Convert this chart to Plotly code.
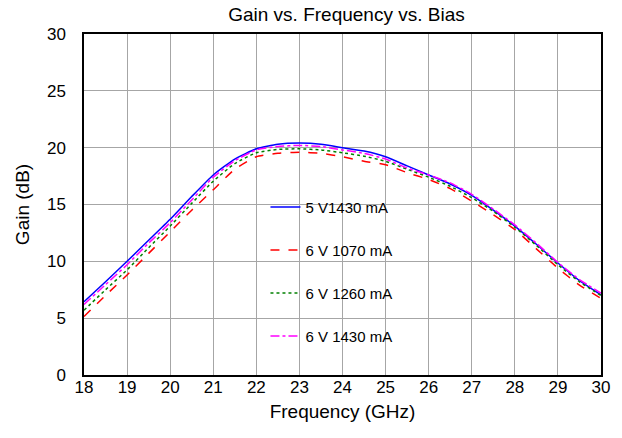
import plotly.graph_objects as go

freq = [18, 18.5, 19, 19.5, 20, 20.5, 21, 21.5, 22, 22.5, 23, 23.5, 24, 24.5,
        25, 25.5, 26, 26.5, 27, 27.5, 28, 28.5, 29, 29.5, 30]

gain_5v_1430 = [6.45, 8.2, 10.0, 11.85, 13.7, 15.7, 17.6, 19.0, 19.9, 20.3, 20.4, 20.3, 20.0, 19.7,
                19.2, 18.4, 17.6, 16.8, 15.8, 14.5, 13.1, 11.5, 9.85, 8.3, 7.05]
gain_6v_1070 = [5.15, 7.0, 8.8, 10.7, 12.6, 14.5, 16.3, 18.1, 19.2, 19.5, 19.6, 19.5, 19.2, 18.8,
                18.5, 17.8, 17.2, 16.4, 15.3, 14.1, 12.8, 11.1, 9.4, 7.9, 6.75]
gain_6v_1260 = [5.7, 7.5, 9.25, 11.2, 13.1, 15.1, 17.05, 18.6, 19.55, 19.85, 19.9, 19.8, 19.55, 19.25,
                18.8, 18.1, 17.4, 16.6, 15.6, 14.4, 13.0, 11.4, 9.7, 8.2, 7.0]
gain_6v_1430 = [6.2, 7.95, 9.7, 11.6, 13.4, 15.4, 17.4, 18.85, 19.8, 20.1, 20.2, 20.1, 19.8, 19.5,
                19.0, 18.2, 17.6, 16.9, 15.9, 14.6, 13.2, 11.6, 9.9, 8.4, 7.2]

series = [
    ("5 V1430 mA", gain_5v_1430, "#0000ff", "solid"),
    ("6 V 1070 mA", gain_6v_1070, "#ff0000", "dash"),
    ("6 V 1260 mA", gain_6v_1260, "#008000", "dot"),
    ("6 V 1430 mA", gain_6v_1430, "#ff00ff", "dashdot"),
]

x_ticks = list(range(18, 31))
y_ticks = list(range(0, 31, 5))

fig = go.Figure()
for i, (name, vals, color, dash) in enumerate(series):
    fig.add_trace(go.Scatter(
        x=freq, y=vals, name=name, mode="lines", legendgroup=f"g{i}",
        line=dict(color=color, dash=dash, width=1.5, shape="spline", smoothing=0.5),
    ))

# white block behind the legend that hides the gridlines (drawn between grid and traces)
fig.add_shape(type="rect", xref="paper", yref="paper", x0=0.35, x1=0.623, y0=0.059, y1=0.557,
              fillcolor="white", line=dict(width=0), layer="between")

font_family = "Arial, Liberation Sans, sans-serif"
fig.update_layout(
    width=622, height=438,
    margin=dict(l=84, r=13, t=34, b=63),
    paper_bgcolor="white", plot_bgcolor="white",
    font=dict(family=font_family, size=17, color="black"),
    title=dict(text="Gain vs. Frequency vs. Bias", x=0.557, xanchor="center",
               y=0.968, yanchor="middle", font=dict(size=19, color="black")),
    showlegend=True,
    legend=dict(x=0.351, y=0.54, xanchor="left", yanchor="top",
                bgcolor="rgba(255,255,255,0)", borderwidth=0, tracegroupgap=20.5,
                font=dict(size=15, color="black")),
    xaxis=dict(range=[18, 30], tickvals=x_ticks, showgrid=True, gridcolor="#a6a6a6",
               gridwidth=1, showline=True, linecolor="black", linewidth=1.5, mirror=True,
               ticks="", ticklen=0, zeroline=False, ticklabelstandoff=-4,
               title=dict(text="Frequency (GHz)", font=dict(size=19), standoff=9)),
    yaxis=dict(range=[0, 30], tickvals=y_ticks, showgrid=True, gridcolor="#a6a6a6",
               gridwidth=1, showline=True, linecolor="black", linewidth=1.5, mirror=True,
               ticks="", ticklen=0, zeroline=False, ticklabelstandoff=13,
               title=dict(text="Gain (dB)", font=dict(size=19), standoff=12)),
)

fig.write_html("out.html", config={"displayModeBar": False},
               post_script="document.body.style.margin='0';")
